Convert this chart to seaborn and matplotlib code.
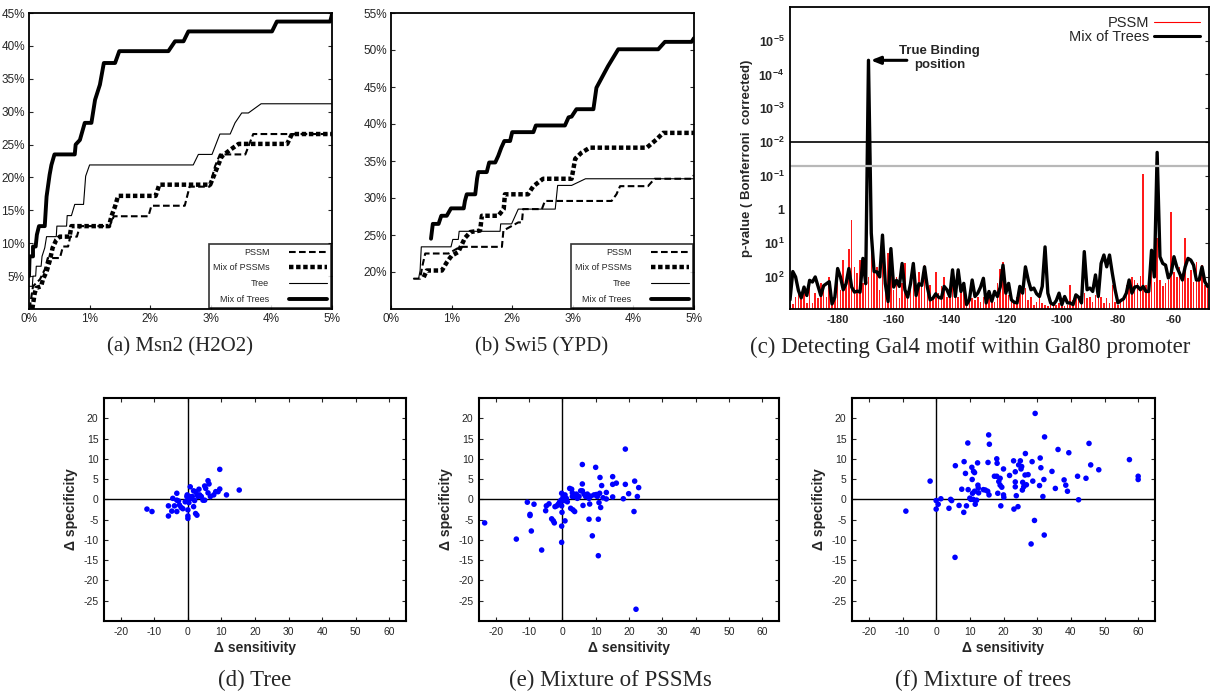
import numpy as np
import pandas as pd
import matplotlib
matplotlib.use('Agg')
import matplotlib.pyplot as plt
from matplotlib.lines import Line2D
import seaborn as sns

sns.set_style('white')
plt.rcParams['font.family'] = ['Liberation Sans', 'DejaVu Sans']
plt.rcParams['mathtext.default'] = 'regular'
plt.rcParams['axes.unicode_minus'] = False

# ---------------- data ----------------
# (a) Msn2 (H2O2): true positive rate (%) vs false positive rate (%)
a_pssm_x = [0.01, 0.04, 0.066, 0.18, 0.26, 0.31, 0.51, 0.56, 0.645, 0.68, 0.79, 0.84, 1.33, 1.40, 1.97, 2.02, 2.57, 2.65, 2.98, 3.07, 3.15, 3.57, 3.70, 5.0]
a_pssm_y = [0, 1.9, 3.45, 4.5, 6.0, 7.75, 7.75, 9.5, 9.5, 11.0, 11.0, 12.6, 12.6, 14.1, 14.1, 15.7, 15.7, 18.6, 18.6, 21.7, 23.5, 23.5, 26.6, 26.6]
a_mixpssm_x = [0.055, 0.094, 0.12, 0.20, 0.23, 0.29, 0.34, 0.39, 0.45, 0.51, 0.67, 0.70, 1.32, 1.36, 1.42, 1.47, 2.09, 2.15, 2.99, 3.07, 3.18, 3.32, 3.46, 4.26, 4.34, 5.0]
a_mixpssm_y = [0, 2.4, 3.2, 3.45, 4.5, 5.7, 7.25, 9.3, 10.5, 11.0, 11.0, 12.6, 12.6, 14.1, 15.6, 17.2, 17.2, 18.9, 18.9, 20.7, 23.2, 24.2, 25.1, 25.1, 26.6, 26.6]
a_tree_x = [0, 0.055, 0.066, 0.11, 0.12, 0.20, 0.215, 0.26, 0.29, 0.45, 0.46, 0.62, 0.63, 0.70, 0.755, 0.90, 0.935, 1.0, 2.71, 2.795, 3.02, 3.15, 3.32, 3.40, 3.51, 3.62, 3.83, 5.0]
a_tree_y = [3.45, 3.45, 5.0, 5.0, 6.5, 6.5, 8.0, 9.3, 11.0, 11.0, 12.6, 12.6, 14.2, 14.2, 15.9, 15.9, 20.2, 21.9, 21.9, 23.5, 23.5, 26.6, 26.6, 28.3, 29.8, 29.8, 31.2, 31.2]
a_mixtree_x = [0, 0.01, 0.066, 0.066, 0.11, 0.13, 0.165, 0.26, 0.29, 0.34, 0.37, 0.42, 0.755, 0.77, 0.84, 0.92, 1.03, 1.09, 1.17, 1.235, 1.42, 1.49, 2.30, 2.41, 2.55, 2.63, 4.01, 4.09, 4.97, 5.0]
a_mixtree_y = [5.0, 8.0, 8.0, 9.5, 9.5, 11.3, 12.6, 12.6, 17.1, 20.4, 21.9, 23.5, 23.5, 25.0, 25.7, 28.3, 28.3, 31.8, 34.1, 37.4, 37.4, 39.2, 39.2, 40.7, 40.7, 42.2, 42.2, 43.7, 43.7, 44.8]

# (b) Swi5 (YPD)
b_pssm_x = [0.37, 0.48, 0.52, 0.565, 0.95, 1.14, 1.83, 1.855, 2.10, 2.16, 2.18, 2.49, 2.54, 3.64, 3.72, 3.78, 4.24, 4.35, 4.96, 5.0]
b_pssm_y = [19.1, 19.1, 20.9, 22.5, 22.5, 23.4, 23.4, 25.6, 26.7, 26.7, 28.5, 28.5, 29.6, 29.6, 30.5, 31.6, 31.6, 32.6, 32.6, 33.1]
b_mixpssm_x = [0.54, 0.59, 0.84, 0.92, 1.0, 1.11, 1.22, 1.31, 1.47, 1.50, 1.77, 1.86, 1.88, 2.26, 2.35, 2.51, 2.98, 3.04, 3.14, 3.28, 4.22, 4.38, 4.49, 5.0]
b_mixpssm_y = [19.3, 20.2, 20.2, 21.3, 22.2, 22.7, 24.6, 25.4, 25.6, 27.6, 27.6, 28.5, 30.5, 30.5, 31.6, 32.6, 32.6, 35.3, 36.1, 36.8, 36.8, 37.9, 38.8, 38.8]
b_tree_x = [0.37, 0.455, 0.48, 0.50, 0.99, 1.02, 1.11, 1.125, 1.80, 1.81, 1.99, 2.10, 2.71, 2.75, 2.98, 3.21, 5.0]
b_tree_y = [19.1, 19.1, 20.2, 23.4, 23.4, 24.4, 24.4, 25.5, 25.5, 26.5, 26.5, 28.5, 28.5, 31.7, 31.7, 32.6, 32.6]
b_mixtree_x = [0.66, 0.69, 0.785, 0.83, 0.92, 0.99, 1.20, 1.22, 1.25, 1.39, 1.42, 1.44, 1.58, 1.62, 1.72, 1.77, 1.82, 1.87, 1.965, 2.0, 2.35, 2.39, 2.87, 2.93, 2.98, 3.06, 3.34, 3.39, 3.58, 3.75, 4.41, 4.52, 4.96, 5.0]
b_mixtree_y = [24.5, 26.5, 26.5, 27.6, 27.6, 28.6, 28.6, 29.6, 30.5, 30.5, 32.6, 33.5, 33.5, 34.8, 34.8, 35.7, 36.8, 37.7, 37.7, 38.9, 38.9, 39.8, 39.8, 40.9, 41.0, 42.0, 42.0, 44.9, 47.8, 50.1, 50.1, 51.1, 51.1, 51.6]

# (c) Gal80 promoter scan, -log10 p-value (Bonferroni corrected) per position
c_pos = list(range(-197, -47))
c_pssm = [-2.82, -2.79, -2.58, -2.38, -2.63, -2.48, -2.77, -2.24, -2.77, -2.48,
          -2.63, -2.19, -2.38, -2.58, -1.99, -2.72, -2.48, -1.70, -2.38, -1.50,
          -2.14, -1.16, -0.32, -1.70, -1.89, -1.50, -2.19, -1.60, -1.99, -0.72,
          -1.65, -1.70, -2.38, -1.21, -1.99, -1.30, -1.89, -2.38, -1.99, -2.63,
          -2.19, -1.60, -2.43, -2.09, -1.79, -2.58, -1.84, -2.28, -1.65, -2.48,
          -2.24, -2.58, -1.84, -2.48, -2.28, -1.99, -2.58, -2.38, -2.14, -2.28,
          -2.58, -2.38, -2.24, -2.63, -2.48, -2.63, -2.68, -2.58, -2.73, -2.58,
          -2.63, -2.48, -2.53, -2.73, -2.19, -1.75, -1.55, -2.28, -2.53, -2.63,
          -2.77, -2.58, -2.38, -2.28, -2.33, -2.68, -2.58, -2.82, -2.73, -2.58,
          -2.77, -2.82, -2.87, -2.73, -2.77, -2.82, -2.77, -2.63, -2.87, -2.82,
          -2.24, -2.68, -2.53, -2.58, -2.28, -2.48, -2.63, -2.58, -2.73, -2.53,
          -2.63, -2.58, -2.77, -2.63, -2.77, -2.24, -2.73, -2.82, -2.68, -2.58,
          -2.24, -2.19, -1.99, -2.09, -2.19, -1.97, 1.05, -2.24, -2.28, -1.21,
          -2.14, -0.86, -2.09, -2.28, -2.19, -2.09, -0.08, -1.84, -1.99, -1.70,
          -1.99, -0.86, -2.04, -1.79, -2.14, -1.55, -2.04, -1.65, -2.24, -2.19]
c_trees = [-2.68, -1.84, -2.0, -2.4, -2.62, -2.3, -2.55, -2.1, -2.15, -2.0,
           -2.28, -2.55, -2.26, -2.2, -2.14, -2.8, -2.6, -1.75, -2.0, -2.38,
           -2.2, -1.75, -2.3, -2.45, -2.42, -2.45, -1.45, -2.2, 4.42, -0.7,
           -1.84, -1.85, -2.0, -0.76, -2.2, -2.73, -1.16, -2.3, -2.1, -2.28,
           -1.6, -2.38, -2.6, -2.2, -1.6, -2.55, -2.2, -2.25, -1.7, -2.3,
           -2.68, -2.63, -2.5, -2.6, -2.63, -2.28, -2.38, -2.58, -1.79, -2.58,
           -1.79, -2.43, -2.19, -2.82, -2.68, -2.09, -2.58, -2.48, -2.3, -2.04,
           -2.77, -2.43, -2.72, -2.43, -2.58, -2.3, -1.65, -2.48, -2.19, -2.68,
           -2.75, -2.77, -2.28, -2.48, -1.7, -2.09, -2.38, -2.33, -2.5, -2.58,
           -2.28, -1.11, -2.48, -2.77, -2.82, -2.7, -2.48, -2.82, -2.58, -2.77,
           -2.77, -2.82, -2.53, -2.6, -2.77, -1.25, -2.38, -2.33, -2.43, -1.94,
           -2.58, -1.6, -1.35, -1.7, -1.35, -1.89, -2.38, -2.77, -2.7, -2.65,
           -2.48, -2.09, -2.48, -2.3, -2.28, -2.38, -2.28, -2.43, -2.43, -1.21,
           -2.0, 1.69, -1.4, -1.6, -1.65, -2.03, -1.89, -1.4, -1.7, -1.89,
           -2.09, -1.7, -1.45, -1.5, -1.65, -2.09, -2.09, -1.7, -2.14, -2.28]
c_thresholds = [2.0, 1.3]   # p = 0.01 and p = 0.05
c_ticks = [-2, -1, 0, 1, 2, 3, 4, 5]
c_ticklabels = ['$10^{2}$', '$10^{1}$', '1', '$10^{-1}$', '$10^{-2}$', '$10^{-3}$', '$10^{-4}$', '$10^{-5}$']

# (d) Tree: delta sensitivity / delta specificity
d_sens = [-12.2, -10.7, -5.8, -5.8, -4.8, -4.5, -4.0, -3.3, -3.3, -2.8, -3.3, -2.5, -2.0, -1.5, -0.8, -0.3, -0.2, 0, 0, 0, 0, 0.3, 0.7, 0.5, 1.0, 1.3, 1.7, 1.7, 2.0, 2.3, 2.3, 2.7, 2.7, 3.0, 3.3, 3.5, 4.0, 4.5, 5.0, 5.0, 5.3, 6.0, 6.3, 6.0, 6.7, 7.7, 8.3, 9.0, 9.5, 9.5, 11.5, 15.3]
d_spec = [-2.4, -3.0, -1.6, -4.1, -2.9, 0.25, -1.6, 1.5, -0.2, -0.4, -3.0, -1.4, -2.0, -2.3, -0.6, 0.7, 1.1, -0.2, -2.6, -4.1, -4.7, -0.8, 3.1, 0.7, 0.25, 0.7, 2.1, -1.8, -0.3, 1.9, -3.5, -3.9, 1.2, 0.7, 2.5, 1.1, 0.7, -0.2, -0.2, 3.3, 2.7, 4.6, 3.8, 1.6, 0.7, 1.1, 1.9, 1.9, 7.4, 2.55, 1.1, 2.3]

# (e) Mixture of PSSMs
e_sens = [-23.3, -13.8, -10.5, -9.7, -9.7, -9.3, -8.5, -6.2, -5.0, -4.8, -4.0, -3.2, -2.7, -2.4, -2.2, -1.7, -1.2, -0.8, -0.4, -0.2, -0.2, -0.1, -0.2, -0.2, 0.2, 0.5, 0.8, 0.8, 1.2, 1.5, 2.2, 2.5, 2.8, 3.0, 3.0, 3.2, 3.5, 3.7, 4.2, 4.5, 5.0, 5.5, 6.0, 6.0, 6.0, 6.2, 6.5, 7.0, 7.5, 8.0, 8.0, 8.2, 8.5, 9.0, 9.5, 10.0, 10.2, 10.5, 10.8, 10.8, 11.0, 11.2, 11.3, 11.5, 11.8, 12.2, 13.2, 13.2, 15.1, 15.1, 15.1, 16.2, 18.3, 18.9, 18.9, 19.9, 21.5, 21.7, 22.1, 22.5, 22.9]
e_spec = [-5.8, -9.8, -0.7, -3.7, -4.0, -7.8, -1.2, -12.5, -2.8, -1.6, -1.1, -4.8, -5.3, -5.8, -1.8, -1.6, -1.15, -0.6, -0.2, 1.5, -1.6, -3.2, -6.6, -10.6, 0.5, -0.3, 1.1, -5.3, 0.25, -0.6, 2.7, -2.2, 2.5, 1.6, 0.7, -2.6, 0.7, -3.0, 1.3, 0.25, 0.7, 2.1, 8.6, 3.8, 2.1, -1.5, 1.3, 0.7, 1.3, 0.25, -4.9, -1.15, 0.8, -9.0, 1.1, 7.9, 1.2, 0.7, -13.9, -4.9, -0.8, 1.5, 5.4, -2.0, 3.4, 0.4, 1.7, 0.1, 5.6, 3.7, 0.6, 4.0, 0.15, 12.4, 3.7, 1.4, -3.0, 4.5, -27.1, 0.7, 2.9]

# (f) Mixture of trees
f_sens = [-9.0, -1.8, 0, 0, 0.6, 1.4, 3.8, 4.3, 4.6, 5.6, 5.7, 6.8, 7.6, 8.2, 8.3, 8.7, 9.0, 9.4, 9.5, 10.0, 10.3, 10.6, 10.7, 10.8, 11.0, 11.1, 11.4, 11.4, 11.6, 12.0, 12.3, 12.4, 12.5, 12.6, 14.0, 14.6, 15.3, 15.4, 15.6, 15.8, 15.7, 17.3, 18.0, 18.0, 18.1, 18.3, 18.6, 19.0, 19.0, 19.2, 19.5, 20.0, 20.0, 20.1, 21.8, 23.0, 23.1, 23.5, 23.5, 23.5, 23.8, 24.3, 24.5, 25.0, 25.2, 25.4, 25.6, 25.7, 26.0, 26.4, 26.5, 26.8, 27.3, 28.2, 28.5, 28.7, 29.2, 29.4, 30.7, 30.9, 31.1, 31.7, 32.0, 32.1, 32.2, 34.4, 35.4, 36.2, 38.0, 38.5, 39.0, 39.4, 42.0, 42.3, 44.5, 45.4, 45.9, 48.3, 57.4, 60.0, 60.0]
f_spec = [-2.9, 4.5, -0.3, -2.4, -1.2, 0.15, -2.2, 0, -0.3, -14.3, 8.3, -1.5, 2.5, -3.2, 9.3, 6.4, -1.6, 13.9, 2.4, 0.3, 0, 7.9, 4.9, 1.5, 0, 6.9, 6.6, 2.0, -1.2, -0.2, 9.0, 3.5, 2.8, 1.6, 2.4, 2.3, 2.0, 9.1, 15.9, 13.6, 1.1, 5.7, 5.7, 10.0, 8.9, 1.5, 4.4, 5.2, 3.5, -1.6, 3.0, 7.5, 1.1, 0.5, 5.9, 9.5, -2.4, 6.8, 4.3, 3.1, 0.9, -1.8, 8.5, 9.5, 7.5, 8.1, 2.3, 4.2, 3.1, 6.0, 11.3, 3.6, 6.1, -11.0, 9.3, 4.5, -5.2, 21.2, 3.4, 10.2, 7.8, 0.7, 4.9, -8.8, 15.4, 6.9, 2.7, 12.3, 4.8, 3.5, 2.0, 11.5, 5.7, -0.1, 5.2, 13.8, 8.5, 7.3, 9.8, 5.7, 4.9]

curve_names = ['PSSM', 'Mix of PSSMs', 'Tree', 'Mix of Trees']
curve_styles = {
    'PSSM': dict(linewidth=1.5, linestyle=(0, (3.2, 1.6))),
    'Mix of PSSMs': dict(linewidth=3.2, linestyle=(0, (1.0, 0.6))),
    'Tree': dict(linewidth=0.8, linestyle='-'),
    'Mix of Trees': dict(linewidth=2.8, linestyle='-'),
}

W, H = 1214, 694
fig = plt.figure(figsize=(W / 100, H / 100), dpi=100)


def box(l, r, t, b):
    return [l / W, (H - b) / H, (r - l) / W, (b - t) / H]


def roc_panel(rect, curves, ylim, yticks):
    ax = fig.add_axes(rect)
    for name, (xs, ys) in zip(curve_names, curves):
        sns.lineplot(x=xs, y=ys, ax=ax, estimator=None, sort=False, color='black',
                     label=name, **curve_styles[name])
    ax.set_xlim(0, 5)
    ax.set_ylim(*ylim)
    ax.set_xticks(range(6))
    ax.set_xticklabels([f'{v}%' for v in range(6)])
    ax.set_yticks(yticks)
    ax.set_yticklabels([f'{v}%' for v in yticks])
    ax.tick_params(direction='in', length=3, labelsize=8.5, right=True, left=True,
                   bottom=True, pad=3)
    for s in ax.spines.values():
        s.set_color('black')
        s.set_linewidth(1.3)
    ax.set_xlabel('')
    ax.set_ylabel('')
    leg = ax.legend(loc='lower right', fontsize=6.5, markerfirst=False, frameon=True,
                    fancybox=False, edgecolor='black', handlelength=4.2,
                    handletextpad=2.2, borderaxespad=0.15, labelspacing=0.75,
                    borderpad=0.4)
    leg.get_frame().set_linewidth(1.2)
    return ax


roc_panel(box(29, 332, 13, 309),
          [(a_pssm_x, a_pssm_y), (a_mixpssm_x, a_mixpssm_y),
           (a_tree_x, a_tree_y), (a_mixtree_x, a_mixtree_y)],
          (0, 45), list(range(5, 50, 5)))
roc_panel(box(391, 694, 13, 309),
          [(b_pssm_x, b_pssm_y), (b_mixpssm_x, b_mixpssm_y),
           (b_tree_x, b_tree_y), (b_mixtree_x, b_mixtree_y)],
          (15, 55), list(range(20, 60, 5)))

# (c) promoter scan
axc = fig.add_axes(box(790, 1209, 7, 309))
base = -2.95
axc.bar(c_pos, [v - base for v in c_pssm], bottom=base, width=0.55, color='#ff1a1a',
        linewidth=0)
sns.lineplot(x=c_pos, y=c_trees, ax=axc, estimator=None, color='black', linewidth=2.4)
axc.axhline(c_thresholds[0], color='black', linewidth=1.2)
axc.axhline(c_thresholds[1], color='#b8b8b8', linewidth=1.6)
axc.set_xlim(-197, -47.5)
axc.set_ylim(base, 6.0)
axc.set_xticks(range(-180, -50, 20))
axc.set_yticks(c_ticks)
axc.set_yticklabels(c_ticklabels)
axc.tick_params(direction='in', length=3, labelsize=8, right=True, pad=4)
axc.tick_params(axis='y', labelsize=9)
for lab in axc.get_yticklabels() + axc.get_xticklabels():
    lab.set_fontweight('bold')
for s in axc.spines.values():
    s.set_color('black')
    s.set_linewidth(1.3)
axc.set_ylabel('p-value ( Bonferroni  corrected)', fontsize=9.5, fontweight='bold',
               labelpad=4)
axc.text(-143.7, 4.5, 'True Binding\nposition', ha='center', va='center',
         fontsize=9.5, fontweight='bold', linespacing=1.2)
axc.annotate('', xy=(-168.2, 4.42), xytext=(-155.3, 4.42),
             arrowprops=dict(arrowstyle='-|>,head_width=0.22,head_length=0.55',
                             color='black', lw=2.2, shrinkA=0, shrinkB=0))
c_handles = [Line2D([], [], color='red', linewidth=0.8),
             Line2D([], [], color='black', linewidth=2.2)]
axc.legend(c_handles, ['PSSM', 'Mix of Trees'], loc='upper right', frameon=False,
           markerfirst=False, fontsize=10.5, handlelength=3.2, handletextpad=0.3,
           labelspacing=0.05, borderaxespad=0.2)


def delta_panel(rect, sens, spec):
    ax = fig.add_axes(rect)
    ax.axhline(0, color='black', linewidth=1.0, zorder=1)
    ax.axvline(0, color='black', linewidth=1.0, zorder=1)
    sns.scatterplot(x=sens, y=spec, ax=ax, color='#0000ff', s=16, linewidth=0,
                    edgecolor='none', zorder=3)
    ax.set_xlim(-25, 65)
    ax.set_ylim(-30, 25)
    ax.set_xticks(range(-20, 70, 10))
    ax.set_yticks(range(-25, 30, 5))
    ax.set_yticklabels([str(v) if v < 25 else '' for v in range(-25, 30, 5)])
    ax.tick_params(direction='in', length=3, labelsize=7.5, top=True, right=True,
                   left=True, bottom=True, pad=4)
    for s in ax.spines.values():
        s.set_color('black')
        s.set_linewidth(1.5)
    ax.set_xlabel('\u0394 sensitivity', fontsize=10, fontweight='bold', labelpad=3)
    ax.set_ylabel('\u0394 specificity', fontsize=10, fontweight='bold', labelpad=4)
    return ax


delta_panel(box(104, 406, 398, 621), d_sens, d_spec)
delta_panel(box(479, 779, 398, 621), e_sens, e_spec)
delta_panel(box(852, 1155, 398, 621), f_sens, f_spec)

captions = [
    ('(a) Msn2 (H2O2)', 180, 347, 15),
    ('(b) Swi5 (YPD)', 542, 347, 15),
    ('(c) Detecting Gal4 motif within Gal80 promoter', 970, 347, 16.5),
    ('(d) Tree', 255, 680, 16.5),
    ('(e) Mixture of PSSMs', 610, 680, 16.5),
    ('(f) Mixture of trees', 983, 680, 16.5),
]
for txt, cx, cy, fs in captions:
    fig.text(cx / W, 1 - cy / H, txt, ha='center', va='center', fontsize=fs,
             family=['Liberation Serif', 'DejaVu Serif'])

fig.savefig('out.png', dpi=100)
